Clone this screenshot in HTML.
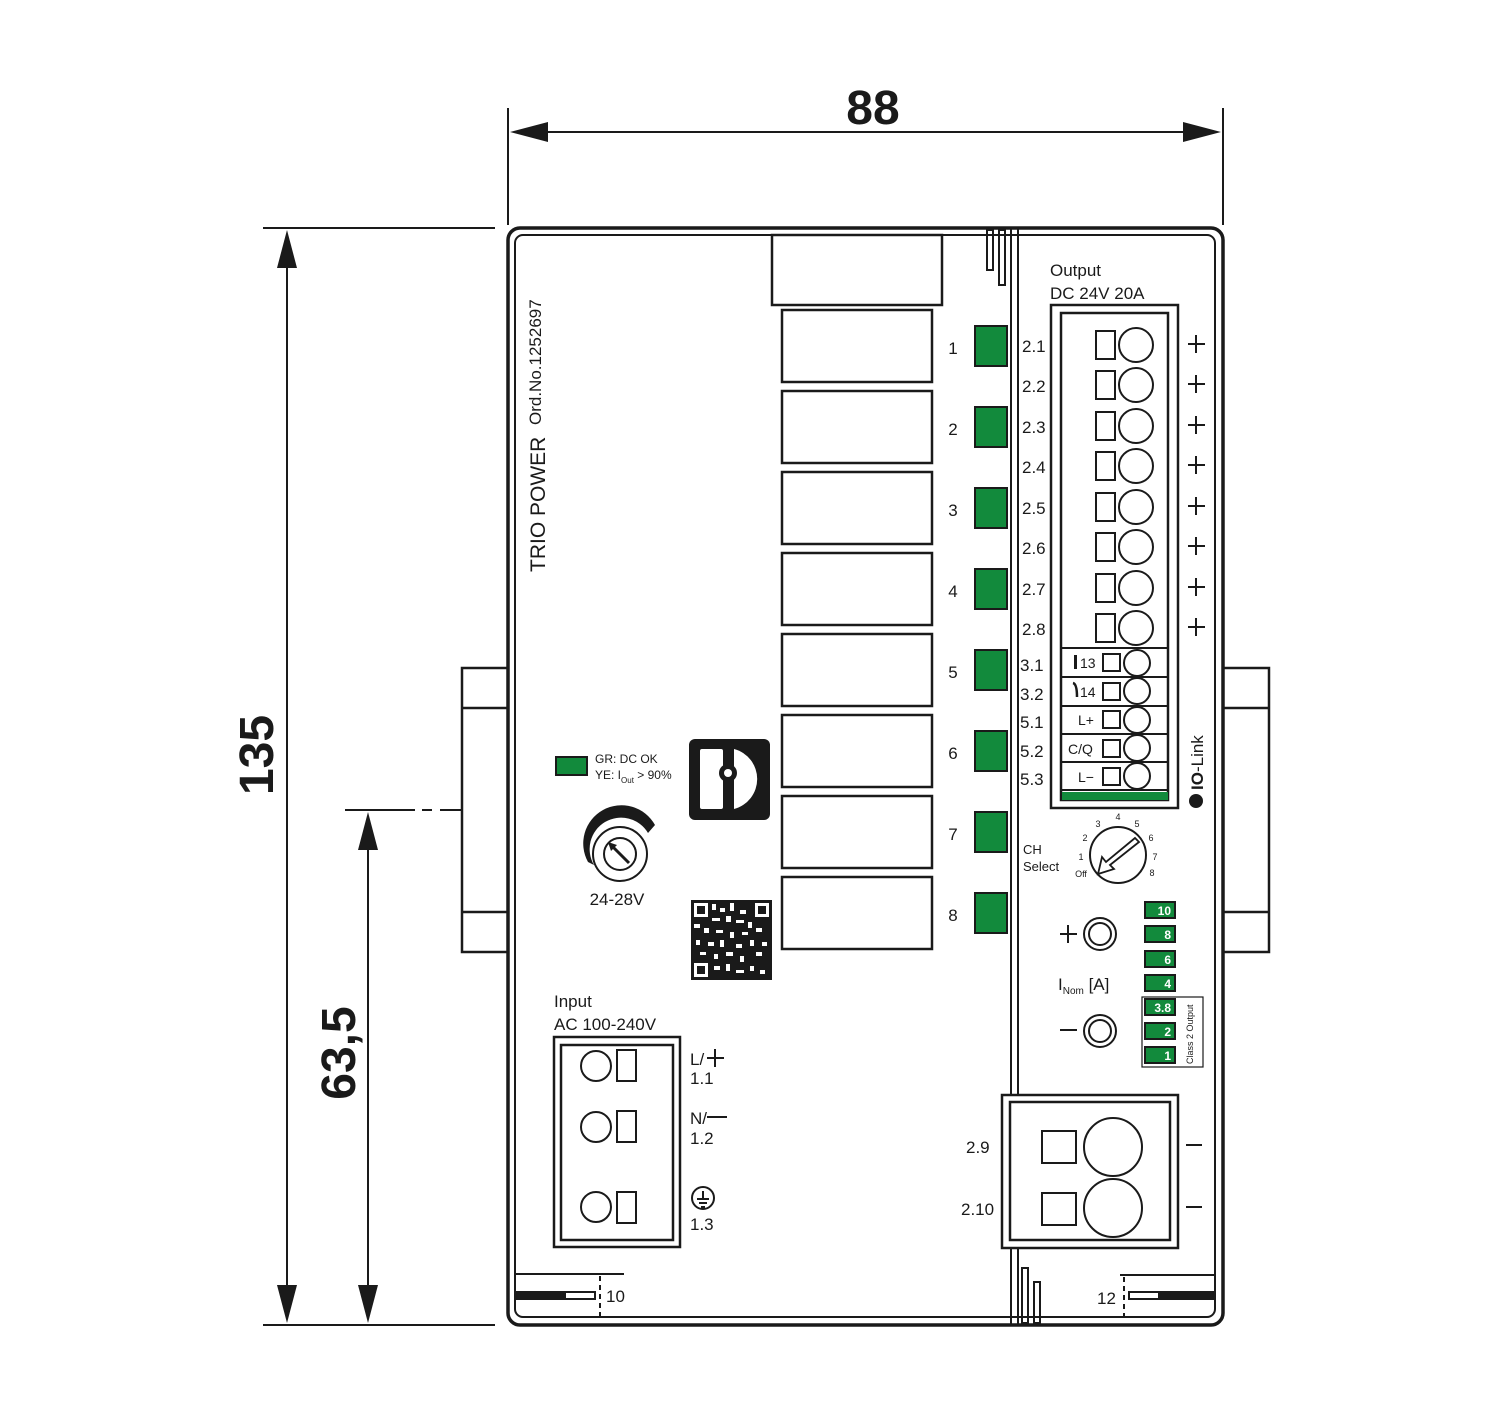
<!DOCTYPE html>
<html><head><meta charset="utf-8"><style>
html,body{margin:0;padding:0;background:#fff}
svg{display:block}
text{font-family:"Liberation Sans",sans-serif;fill:#1a1a1a}
text.w{fill:#fff}
</style></head><body>
<svg width="1500" height="1406" viewBox="0 0 1500 1406" xmlns="http://www.w3.org/2000/svg">
<g fill="none" stroke="#1a1a1a" stroke-width="2">
<line x1="508" y1="108" x2="508" y2="225"/>
<line x1="1223" y1="108" x2="1223" y2="225"/>
<line x1="540" y1="132" x2="1190" y2="132"/>
<line x1="263" y1="228" x2="495" y2="228"/>
<line x1="263" y1="1325" x2="495" y2="1325"/>
<line x1="287" y1="260" x2="287" y2="1295"/>
<line x1="345" y1="810" x2="415" y2="810"/>
<line x1="422" y1="810" x2="432" y2="810"/>
<line x1="440" y1="810" x2="462" y2="810"/>
<line x1="368" y1="840" x2="368" y2="1295"/>
</g>
<g fill="#1a1a1a">
<polygon points="510,132 548,122 548,142"/>
<polygon points="1221,132 1183,122 1183,142"/>
<polygon points="287,230 277,268 297,268"/>
<polygon points="287,1323 277,1285 297,1285"/>
<polygon points="368,812 358,850 378,850"/>
<polygon points="368,1323 358,1285 378,1285"/>
</g>
<text x="873" y="124" font-size="48" font-weight="bold" text-anchor="middle">88</text>
<text transform="translate(273,755) rotate(-90)" font-size="48" font-weight="bold" text-anchor="middle">135</text>
<text transform="translate(355,1053) rotate(-90)" font-size="48" font-weight="bold" text-anchor="middle">63,5</text>

<g fill="none" stroke="#1a1a1a" stroke-width="2.5">
<rect x="462" y="668" width="46" height="284"/>
<line x1="462" y1="708" x2="508" y2="708"/>
<line x1="462" y1="912" x2="508" y2="912"/>
<rect x="1223" y="668" width="46" height="284"/>
<line x1="1223" y1="708" x2="1269" y2="708"/>
<line x1="1223" y1="912" x2="1269" y2="912"/>
<rect x="508" y="228" width="715" height="1097" rx="12" stroke-width="3.5"/>
<rect x="515" y="235" width="700" height="1082" rx="8" stroke-width="2"/>
<line x1="1011" y1="228" x2="1011" y2="1095" stroke-width="2"/>
<line x1="1018" y1="228" x2="1018" y2="1095" stroke-width="2"/>
<line x1="1011" y1="1248" x2="1011" y2="1325" stroke-width="2"/>
<line x1="1018" y1="1248" x2="1018" y2="1325" stroke-width="2"/>
<rect x="987" y="230" width="6" height="40" stroke-width="2"/>
<rect x="999" y="230" width="6" height="55" stroke-width="2"/>
<rect x="1022" y="1268" width="6" height="55" stroke-width="2"/>
<rect x="1034" y="1282" width="6" height="41" stroke-width="2"/>
<rect x="772" y="235" width="170" height="70"/>
<rect x="782" y="310" width="150" height="72"/>
<rect x="782" y="391" width="150" height="72"/>
<rect x="782" y="472" width="150" height="72"/>
<rect x="782" y="553" width="150" height="72"/>
<rect x="782" y="634" width="150" height="72"/>
<rect x="782" y="715" width="150" height="72"/>
<rect x="782" y="796" width="150" height="72"/>
<rect x="782" y="877" width="150" height="72"/>
</g>
<g fill="#128a3c" stroke="#1a1a1a" stroke-width="2">
<rect x="975" y="326" width="32" height="40"/>
<rect x="975" y="407" width="32" height="40"/>
<rect x="975" y="488" width="32" height="40"/>
<rect x="975" y="569" width="32" height="40"/>
<rect x="975" y="650" width="32" height="40"/>
<rect x="975" y="731" width="32" height="40"/>
<rect x="975" y="812" width="32" height="40"/>
<rect x="975" y="893" width="32" height="40"/>
<rect x="556" y="757" width="31" height="18"/>
</g>
<g font-size="17" text-anchor="middle">
<text x="953" y="354">1</text><text x="953" y="435">2</text><text x="953" y="516">3</text><text x="953" y="597">4</text>
<text x="953" y="678">5</text><text x="953" y="759">6</text><text x="953" y="840">7</text><text x="953" y="921">8</text>
</g>
<text transform="translate(545,572) rotate(-90)" font-size="21">TRIO POWER</text>
<text transform="translate(541,425) rotate(-90)" font-size="17">Ord.No.1252697</text>

<text x="1050" y="276" font-size="17">Output</text>
<text x="1050" y="299" font-size="17">DC 24V 20A</text>
<g fill="none" stroke="#1a1a1a" stroke-width="2.5">
<rect x="1051" y="305" width="127" height="503"/>
<rect x="1061" y="313" width="107" height="487"/>
</g>
<g fill="none" stroke="#1a1a1a" stroke-width="2">
<rect x="1096" y="331" width="19" height="28"/><circle cx="1136" cy="345" r="17"/>
<rect x="1096" y="371" width="19" height="28"/><circle cx="1136" cy="385" r="17"/>
<rect x="1096" y="412" width="19" height="28"/><circle cx="1136" cy="426" r="17"/>
<rect x="1096" y="452" width="19" height="28"/><circle cx="1136" cy="466" r="17"/>
<rect x="1096" y="493" width="19" height="28"/><circle cx="1136" cy="507" r="17"/>
<rect x="1096" y="533" width="19" height="28"/><circle cx="1136" cy="547" r="17"/>
<rect x="1096" y="574" width="19" height="28"/><circle cx="1136" cy="588" r="17"/>
<rect x="1096" y="614" width="19" height="28"/><circle cx="1136" cy="628" r="17"/>
<line x1="1061" y1="648" x2="1168" y2="648"/>
<line x1="1061" y1="677" x2="1168" y2="677"/>
<line x1="1061" y1="706" x2="1168" y2="706"/>
<line x1="1061" y1="734" x2="1168" y2="734"/>
<line x1="1061" y1="762" x2="1168" y2="762"/>
<line x1="1061" y1="790" x2="1168" y2="790"/>
<rect x="1103" y="654" width="17" height="17"/><circle cx="1137" cy="663" r="13"/>
<rect x="1103" y="683" width="17" height="17"/><circle cx="1137" cy="691" r="13"/>
<rect x="1103" y="711" width="17" height="17"/><circle cx="1137" cy="720" r="13"/>
<rect x="1103" y="740" width="17" height="17"/><circle cx="1137" cy="748" r="13"/>
<rect x="1103" y="768" width="17" height="17"/><circle cx="1137" cy="776" r="13"/>
</g>
<rect x="1062" y="792" width="106" height="8" fill="#128a3c"/>
<g font-size="17">
<text x="1022" y="352">2.1</text><text x="1022" y="392">2.2</text><text x="1022" y="433">2.3</text><text x="1022" y="473">2.4</text>
<text x="1022" y="514">2.5</text><text x="1022" y="554">2.6</text><text x="1022" y="595">2.7</text><text x="1022" y="635">2.8</text>
<text x="1020" y="671">3.1</text><text x="1020" y="700">3.2</text><text x="1020" y="728">5.1</text><text x="1020" y="757">5.2</text><text x="1020" y="785">5.3</text>
</g>
<g font-size="14">
<rect x="1074" y="655" width="3" height="14" fill="#1a1a1a"/>
<text x="1080" y="668">13</text>
<path d="M1073 683 Q1077 684 1077 697" fill="none" stroke="#1a1a1a" stroke-width="2.5"/>
<text x="1080" y="697">14</text>
<text x="1078" y="725">L+</text>
<text x="1068" y="754">C/Q</text>
<text x="1078" y="782">L−</text>
</g>
<g stroke="#1a1a1a" stroke-width="2">
<line x1="1188" y1="344" x2="1205" y2="344"/><line x1="1196" y1="335" x2="1196" y2="353"/>
<line x1="1188" y1="384" x2="1205" y2="384"/><line x1="1196" y1="375" x2="1196" y2="393"/>
<line x1="1188" y1="425" x2="1205" y2="425"/><line x1="1196" y1="416" x2="1196" y2="434"/>
<line x1="1188" y1="465" x2="1205" y2="465"/><line x1="1196" y1="456" x2="1196" y2="474"/>
<line x1="1188" y1="506" x2="1205" y2="506"/><line x1="1196" y1="497" x2="1196" y2="515"/>
<line x1="1188" y1="546" x2="1205" y2="546"/><line x1="1196" y1="537" x2="1196" y2="555"/>
<line x1="1188" y1="587" x2="1205" y2="587"/><line x1="1196" y1="578" x2="1196" y2="596"/>
<line x1="1188" y1="627" x2="1205" y2="627"/><line x1="1196" y1="618" x2="1196" y2="636"/>
</g>
<text transform="translate(1203,790) rotate(-90)" font-size="17"><tspan font-weight="bold">IO</tspan>-Link</text>
<circle cx="1196" cy="801" r="7" fill="#1a1a1a"/>

<text x="1023" y="854" font-size="13">CH</text>
<text x="1023" y="871" font-size="13">Select</text>
<circle cx="1118" cy="855" r="28" fill="none" stroke="#1a1a1a" stroke-width="2"/>
<path d="M1135 838 L1106 862 L1102 857 L1098 874 L1114 869 L1110 865 L1139 842 Z" fill="none" stroke="#1a1a1a" stroke-width="1.8"/>
<g font-size="9" text-anchor="middle">
<text x="1118" y="820">4</text><text x="1098" y="827">3</text><text x="1137" y="827">5</text>
<text x="1085" y="841">2</text><text x="1151" y="841">6</text>
<text x="1081" y="860">1</text><text x="1155" y="860">7</text>
<text x="1081" y="877">Off</text><text x="1152" y="876">8</text>
</g>
<g stroke="#1a1a1a" stroke-width="2" fill="none">
<line x1="1060" y1="934" x2="1077" y2="934"/><line x1="1068" y1="925" x2="1068" y2="943"/>
<circle cx="1100" cy="934" r="16"/><circle cx="1100" cy="934" r="11"/>
<line x1="1060" y1="1030" x2="1077" y2="1030"/>
<circle cx="1100" cy="1031" r="16"/><circle cx="1100" cy="1031" r="11"/>
<rect x="1142" y="997" width="61" height="70" stroke-width="1.2"/>
</g>
<text x="1058" y="990" font-size="17">I<tspan font-size="10" dy="4">Nom</tspan><tspan dy="-4"> [A]</tspan></text>
<g fill="#128a3c" stroke="#1a1a1a" stroke-width="2">
<rect x="1145" y="902" width="30" height="16"/><rect x="1145" y="926" width="30" height="16"/>
<rect x="1145" y="951" width="30" height="16"/><rect x="1145" y="975" width="30" height="16"/>
<rect x="1145" y="999" width="30" height="16"/><rect x="1145" y="1023" width="30" height="16"/>
<rect x="1145" y="1047" width="30" height="16"/>
</g>
<g font-size="12" font-weight="bold" text-anchor="end">
<text class="w" x="1171" y="915">10</text><text class="w" x="1171" y="939">8</text>
<text class="w" x="1171" y="964">6</text><text class="w" x="1171" y="988">4</text>
<text class="w" x="1171" y="1012">3.8</text><text class="w" x="1171" y="1036">2</text>
<text class="w" x="1171" y="1060">1</text>
</g>
<text transform="translate(1193,1064) rotate(-90)" font-size="9">Class 2 Output</text>

<g fill="none" stroke="#1a1a1a" stroke-width="2.5">
<rect x="1002" y="1095" width="176" height="153"/>
<rect x="1010" y="1102" width="160" height="138"/>
</g>
<g fill="none" stroke="#1a1a1a" stroke-width="2">
<rect x="1042" y="1131" width="34" height="32"/><circle cx="1113" cy="1147" r="29"/>
<rect x="1042" y="1193" width="34" height="32"/><circle cx="1113" cy="1208" r="29"/>
<line x1="1186" y1="1145" x2="1202" y2="1145"/><line x1="1186" y1="1207" x2="1202" y2="1207"/>
</g>
<text x="966" y="1153" font-size="17">2.9</text>
<text x="961" y="1215" font-size="17">2.10</text>

<text x="595" y="763" font-size="12">GR: DC OK</text>
<text x="595" y="779" font-size="12">YE: I<tspan font-size="8" dy="4">Out</tspan><tspan dy="-4"> &gt; 90%</tspan></text>
<path d="M588 862 A35 35 0 0 1 655 825 L648 833 A28 28 0 0 0 594 865 Z" fill="#1a1a1a"/>
<circle cx="620" cy="854" r="27" fill="none" stroke="#1a1a1a" stroke-width="2"/>
<circle cx="620" cy="854" r="16" fill="none" stroke="#1a1a1a" stroke-width="2"/>
<line x1="612" y1="846" x2="629" y2="863" stroke="#1a1a1a" stroke-width="3"/>
<polygon points="608,842 617,845 611,851" fill="#1a1a1a"/>
<text x="617" y="905" font-size="17" text-anchor="middle">24-28V</text>
<rect x="689" y="739" width="81" height="81" rx="6" fill="#1a1a1a"/>
<rect x="700" y="749" width="23" height="60" rx="2" fill="#fff"/>
<path d="M734 749 A31 31 0 0 1 734 809 Z" fill="#fff"/>
<circle cx="728" cy="773" r="9" fill="#1a1a1a"/><circle cx="728" cy="773" r="4" fill="#fff"/>
<g fill="#1a1a1a">
<rect x="691" y="900" width="81" height="80"/>
</g>
<g fill="#fff">
<rect x="694" y="903" width="14" height="14"/><rect x="755" y="903" width="14" height="14"/><rect x="694" y="963" width="14" height="14"/>
<rect x="712" y="904" width="4" height="6"/><rect x="720" y="908" width="5" height="4"/><rect x="730" y="903" width="4" height="8"/><rect x="740" y="910" width="6" height="4"/>
<rect x="712" y="918" width="8" height="3"/><rect x="726" y="916" width="5" height="6"/><rect x="736" y="920" width="8" height="3"/><rect x="748" y="922" width="4" height="6"/>
<rect x="694" y="924" width="6" height="4"/><rect x="704" y="928" width="5" height="5"/><rect x="716" y="930" width="7" height="3"/><rect x="730" y="932" width="4" height="6"/><rect x="742" y="932" width="6" height="3"/><rect x="756" y="928" width="6" height="4"/>
<rect x="696" y="940" width="4" height="5"/><rect x="708" y="942" width="6" height="4"/><rect x="720" y="940" width="4" height="7"/><rect x="736" y="944" width="6" height="4"/><rect x="750" y="940" width="4" height="6"/><rect x="762" y="942" width="5" height="4"/>
<rect x="700" y="952" width="6" height="3"/><rect x="714" y="954" width="4" height="5"/><rect x="726" y="952" width="7" height="4"/><rect x="740" y="956" width="4" height="6"/><rect x="756" y="952" width="6" height="4"/>
<rect x="714" y="966" width="6" height="4"/><rect x="726" y="964" width="4" height="7"/><rect x="736" y="970" width="8" height="3"/><rect x="750" y="966" width="4" height="5"/><rect x="760" y="970" width="5" height="4"/>
</g>
<g fill="#1a1a1a"><rect x="697" y="906" width="8" height="8"/><rect x="758" y="906" width="8" height="8"/><rect x="697" y="966" width="8" height="8"/></g>

<text x="554" y="1007" font-size="17">Input</text>
<text x="554" y="1030" font-size="17">AC 100-240V</text>
<g fill="none" stroke="#1a1a1a" stroke-width="2.5">
<rect x="554" y="1037" width="126" height="210"/>
<rect x="561" y="1045" width="112" height="195"/>
</g>
<g fill="none" stroke="#1a1a1a" stroke-width="2">
<circle cx="596" cy="1066" r="15"/><rect x="617" y="1050" width="19" height="31"/>
<circle cx="596" cy="1127" r="15"/><rect x="617" y="1111" width="19" height="31"/>
<circle cx="596" cy="1207" r="15"/><rect x="617" y="1192" width="19" height="31"/>
<circle cx="703" cy="1198" r="11"/>
<line x1="697" y1="1199" x2="709" y2="1199"/><line x1="699" y1="1203" x2="707" y2="1203"/><line x1="701" y1="1207" x2="705" y2="1207"/><line x1="703" y1="1191" x2="703" y2="1199"/>
<line x1="707" y1="1058" x2="724" y2="1058"/><line x1="715" y1="1049" x2="715" y2="1067"/>
<line x1="707" y1="1117" x2="727" y2="1117"/>
</g>
<g font-size="17">
<text x="690" y="1065">L/</text><text x="690" y="1084">1.1</text>
<text x="690" y="1124">N/</text><text x="690" y="1144">1.2</text>
<text x="690" y="1230">1.3</text>
</g>
<g stroke="#1a1a1a" stroke-width="2" fill="none">
<line x1="516" y1="1274" x2="624" y2="1274"/>
<line x1="600" y1="1276" x2="600" y2="1318" stroke-dasharray="5,4"/>
<rect x="565" y="1292" width="30" height="7"/>
<line x1="1120" y1="1275" x2="1214" y2="1275"/>
<line x1="1124" y1="1277" x2="1124" y2="1318" stroke-dasharray="5,4"/>
<rect x="1129" y="1292" width="30" height="7"/>
</g>
<rect x="516" y="1291" width="50" height="9" fill="#1a1a1a"/>
<rect x="1158" y="1291" width="57" height="9" fill="#1a1a1a"/>
<text x="606" y="1302" font-size="17">10</text>
<text x="1097" y="1304" font-size="17">12</text>
</svg>
</body></html>
